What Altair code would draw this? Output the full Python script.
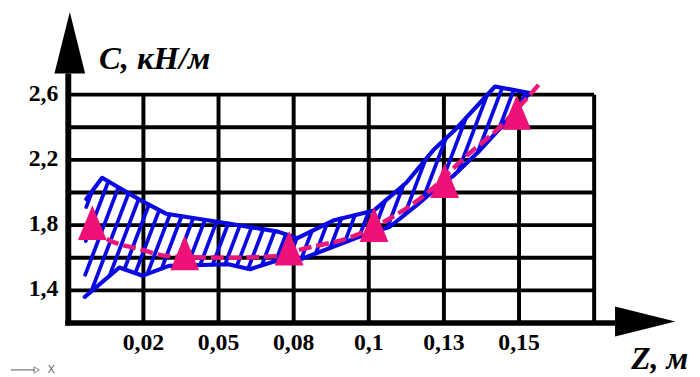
import altair as alt
import numpy as np
import pandas as pd

# ---------------- data ----------------
x_tick_pos = [1, 2, 3, 4, 5, 6]
x_tick_labels = ["0,02", "0,05", "0,08", "0,1", "0,13", "0,15"]
y_tick_vals = [1.4, 1.8, 2.2, 2.6]
y_tick_labels = ["1,4", "1,8", "2,2", "2,6"]
grid_x = [1, 2, 3, 4, 5, 6, 7]
grid_y = [1.4, 1.6, 1.8, 2.0, 2.2, 2.4, 2.6]

# band (hatched) boundaries, x in category-position units
upper_x = [0.24, 0.45, 0.97, 1.30, 2.13, 2.79, 3.05, 3.54, 4.07, 4.50, 4.86, 5.16, 5.68, 6.14]
upper_y = [1.96, 2.09, 1.95, 1.87, 1.81, 1.76, 1.72, 1.83, 1.89, 2.06, 2.26, 2.39, 2.65, 2.61]
lower_x = [0.22, 0.68, 0.99, 1.34, 2.13, 2.42, 2.76, 3.09, 3.88, 4.28, 4.63, 4.86, 5.12, 5.46, 5.78, 6.14]
lower_y = [1.36, 1.54, 1.49, 1.55, 1.56, 1.53, 1.58, 1.59, 1.73, 1.79, 1.92, 2.01, 2.10, 2.25, 2.41, 2.61]

# dashed fitted curve
curve_x = [0.32, 0.46, 0.97, 1.34, 2.13, 2.76, 3.09, 3.84, 4.24, 4.76, 5.29, 5.72, 6.28]
curve_y = [1.78, 1.73, 1.65, 1.61, 1.60, 1.61, 1.65, 1.74, 1.83, 1.99, 2.22, 2.39, 2.67]

# triangle markers
tri_x = [0.32, 1.55, 2.94, 4.07, 5.01, 5.97]
tri_y = [1.815, 1.63, 1.658, 1.803, 2.073, 2.491]

# ---------------- layout / style ----------------
W, H = 692, 369
PX_X, PX_Y = 76.0, 165.0          # pixels per unit
X0 = 61.0                          # local px of x = 0
Y0 = 316.5                         # local px of y = 1.2
x_dom = [-X0 / PX_X, (W - X0) / PX_X]
y_dom = [1.2 - (H - Y0) / PX_Y, 1.2 + Y0 / PX_Y]

BLUE = "#0A0AE0"
PINK = "#EE1177"
SERIF = "Liberation Serif"

xs = alt.Scale(domain=x_dom, nice=False, zero=False)
ys = alt.Scale(domain=y_dom, nice=False, zero=False)


def X(f="x"):
    return alt.X(f + ":Q", scale=xs, axis=None)


def Y(f="y"):
    return alt.Y(f + ":Q", scale=ys, axis=None)


# ---------------- grid ----------------
hgrid = pd.DataFrame({"y": grid_y, "x": 0.0, "x2": 7.0})
vgrid = pd.DataFrame({"x": grid_x, "y": 1.2, "y2": 2.6})
hgrid_c = alt.Chart(hgrid).mark_rule(color="black", strokeWidth=4).encode(
    x=X(), x2="x2:Q", y=Y())
vgrid_c = alt.Chart(vgrid).mark_rule(color="black", strokeWidth=4).encode(
    x=X(), y=Y(), y2="y2:Q")

# ---------------- axes with arrows ----------------
yaxis = pd.DataFrame({"x": [0.0], "y": [1.2 - 2.5 / PX_Y], "y2": [1.2 + 252.5 / PX_Y]})
xaxis = pd.DataFrame({"y": [1.2], "x": [-0.04], "x2": [7.28]})
yaxis_c = alt.Chart(yaxis).mark_rule(color="black", strokeWidth=6).encode(
    x=X(), y=Y(), y2="y2:Q")
xaxis_c = alt.Chart(xaxis).mark_rule(color="black", strokeWidth=5.5).encode(
    x=X(), x2="x2:Q", y=Y())
yarrow = pd.DataFrame({"x": [0.02], "y": [1.2 + 283.5 / PX_Y]})
xarrow = pd.DataFrame({"x": [7.68], "y": [1.2 + 1.5 / PX_Y]})
yarrow_c = alt.Chart(yarrow).mark_point(
    shape="M0,-1L0.5,1L-0.5,1Z", size=62 * 62, filled=True, color="black", opacity=1
).encode(x=X(), y=Y())
xarrow_c = alt.Chart(xarrow).mark_point(
    shape="M1,0L-1,-0.5L-1,0.5Z", size=61 * 61, filled=True, color="black", opacity=1
).encode(x=X(), y=Y())

# ---------------- hatching derived from the band boundaries ----------------
K = 0.38       # horizontal px per vertical px of the hatch slant
S = 12.5       # px between hatch lines
ux, uy = np.array(upper_x), np.array(upper_y)
lx, ly = np.array(lower_x), np.array(lower_y)


def inside(x, y):
    lo = np.interp(x, lx, ly)
    up = np.interp(x, ux, uy)
    xl = lx[0] + (y - ly[0]) / (uy[0] - ly[0]) * (ux[0] - lx[0])
    return (y >= lo) & (y <= up) & (x >= xl) & (x <= ux[-1])


cvals_all = np.concatenate([PX_X * ux - K * PX_Y * uy, PX_X * lx - K * PX_Y * ly])
yy = np.arange(1.2, 2.9, 0.0005)
segs = []
for c in np.arange(cvals_all.min() + 3, cvals_all.max(), S):
    xx = (c + K * PX_Y * yy) / PX_X
    m = inside(xx, yy)
    idx = np.flatnonzero(m)
    if len(idx) < 2:
        continue
    runs = np.split(idx, np.flatnonzero(np.diff(idx) > 1) + 1)
    for r in runs:
        if len(r) < 4:
            continue
        segs.append({"x": xx[r[0]], "y": yy[r[0]], "x2": xx[r[-1]], "y2": yy[r[-1]]})
hatch = pd.DataFrame(segs)
hatch_c = alt.Chart(hatch).mark_rule(color=BLUE, strokeWidth=3.8, strokeCap="round").encode(
    x=X(), y=Y(), x2="x2:Q", y2="y2:Q")

band = pd.concat([
    pd.DataFrame({"x": upper_x, "y": upper_y, "edge": "upper", "o": range(len(upper_x))}),
    pd.DataFrame({"x": lower_x, "y": lower_y, "edge": "lower", "o": range(len(lower_x))}),
])
band_c = alt.Chart(band).mark_line(
    color=BLUE, strokeWidth=4.2, strokeJoin="round", strokeCap="round"
).encode(x=X(), y=Y(), detail="edge:N", order="o:Q")

# ---------------- dashed curve and triangles ----------------
curve = pd.DataFrame({"x": curve_x, "y": curve_y})
curve_c = alt.Chart(curve).mark_line(
    color="#E8177A", strokeWidth=4.5, strokeDash=[13, 5], interpolate="monotone"
).encode(x=X(), y=Y())
tri = pd.DataFrame({"x": tri_x, "y": tri_y})
tri_c = alt.Chart(tri).mark_point(
    shape="M0,-1L0.83,1L-0.83,1Z", size=35 * 35, filled=True, color=PINK, opacity=1
).encode(x=X(), y=Y())

# ---------------- labels ----------------
xl_df = pd.DataFrame({"x": x_tick_pos, "t": x_tick_labels})
xl_c = alt.Chart(xl_df).mark_text(
    font=SERIF, fontWeight="bold", fontSize=24, align="center", baseline="alphabetic", color="black"
).encode(x=X(), y=alt.value(344), text="t:N")
yl_df = pd.DataFrame({"y": y_tick_vals, "t": y_tick_labels})
yl_c = alt.Chart(yl_df).mark_text(
    font=SERIF, fontWeight="bold", fontSize=24, align="right", baseline="alphabetic",
    color="black", dy=6
).encode(x=alt.value(51), y=Y(), text="t:N")

titles = pd.DataFrame({"t": ["C, кН/м"]})
ytitle_c = alt.Chart(titles).mark_text(
    font=SERIF, fontWeight="bold", fontStyle="italic", fontSize=33, align="left",
    baseline="alphabetic", color="black"
).encode(x=alt.value(92), y=alt.value(60), text="t:N")
xtitles = pd.DataFrame({"t": ["Z, м"]})
xtitle_c = alt.Chart(xtitles).mark_text(
    font=SERIF, fontWeight="bold", fontStyle="italic", fontSize=32, align="right",
    baseline="alphabetic", color="black"
).encode(x=alt.value(688), y=alt.value(363), text="t:N")

# small marker in the bottom-left corner
mk = pd.DataFrame({"t": ["X"]})
mk_line = alt.Chart(mk).mark_rule(color="#555555", strokeWidth=1).encode(
    x=alt.value(3), x2=alt.value(27), y=alt.value(364))
mk_tri = alt.Chart(mk).mark_point(
    shape="triangle-right", size=40, filled=False, color="#555555", strokeWidth=1
).encode(x=alt.value(29), y=alt.value(364))
mk_txt = alt.Chart(mk).mark_text(
    font="DejaVu Sans", fontSize=11, color="#666666", align="left", baseline="middle"
).encode(x=alt.value(40), y=alt.value(364), text="t:N")

chart = alt.layer(
    hgrid_c, vgrid_c, hatch_c, band_c, curve_c, tri_c,
    yaxis_c, xaxis_c, yarrow_c, xarrow_c,
    xl_c, yl_c, ytitle_c, xtitle_c, mk_line, mk_tri, mk_txt,
).properties(
    width=W, height=H, padding=0, autosize=alt.AutoSizeParams(type="none"),
    background="white",
).configure_view(stroke=None)

chart.save("out.html", embed_options={"renderer": "svg", "actions": False})
